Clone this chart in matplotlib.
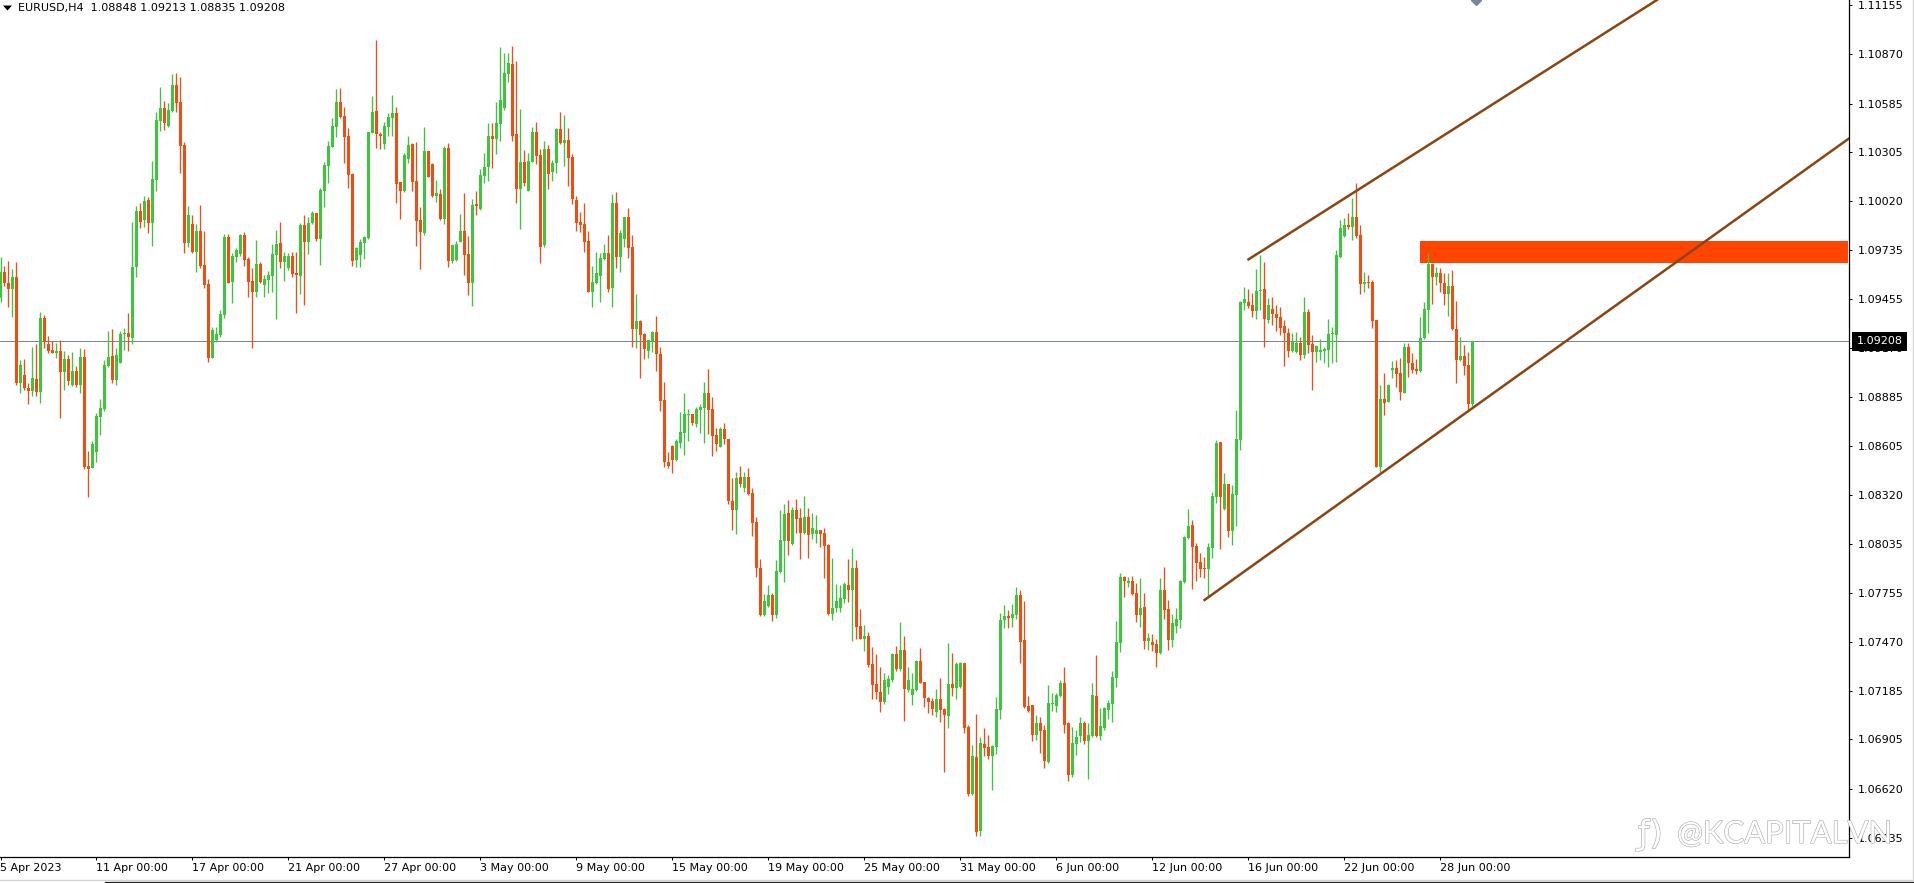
#! /usr/bin/env python3

import numpy as np
import matplotlib
matplotlib.use("Agg")
import matplotlib.pyplot as plt
import matplotlib.patheffects as pe
from matplotlib.lines import Line2D
from matplotlib.patches import Polygon, Rectangle

# EURUSD H4 candles, prices in points (1 point = 0.00001)
highs = [
    109699,109645,109674,109627,109666,109101,109105,108966,109178,109193,
    109377,109361,109240,109213,109201,109216,109155,109130,109149,109066,
    109168,109162,108576,108634,108792,108875,109101,109270,109280,109168,
    109270,109284,109371,109901,109992,110007,110050,110042,110252,110534,
    110679,110601,110586,110756,110763,110736,110364,109992,109940,109888,
    109998,109847,109567,109294,109290,109390,109828,109828,109718,109751,
    109830,109839,109699,109631,109795,109666,109593,109616,109770,109853,
    109901,109724,109718,109728,109728,109895,109940,109926,109963,109953,
    110094,110248,110368,110499,110667,110673,110563,110441,110185,109757,
    109799,109818,110422,110628,110952,110422,110480,110532,110634,110563,
    110133,110297,110397,110355,110364,109984,110451,110312,110239,110142,
    110088,110339,110355,109770,109791,109946,110069,109818,110030,110081,
    110204,110297,110470,110474,110596,110914,110875,110879,110918,110831,
    110553,110316,110297,110447,110476,110322,110368,110345,110258,110445,
    110534,110518,110441,110293,110050,109959,110007,109847,109645,109728,
    109722,109772,109824,110061,110071,109853,109930,109978,109824,109483,
    109332,109259,109216,109268,109355,109174,108971,108566,108609,108642,
    108798,108908,108815,108786,108827,108844,108975,109047,108888,108709,
    108715,108734,108644,108416,108450,108489,108450,108477,108358,108190,
    107947,107744,107798,107754,107943,108232,108267,108290,108248,108296,
    108242,108313,108242,108213,108203,108117,108126,108036,107953,107804,
    107798,107818,107949,108011,107943,107658,107567,107528,107438,107399,
    107322,107287,107278,107403,107445,107586,107503,107326,107287,107364,
    107432,107239,107152,107146,107195,107258,107085,107461,107403,107355,
    107355,107349,106988,106872,107052,106917,106969,106930,106871,107152,
    107634,107683,107654,107688,107785,107769,107706,107156,107104,107046,
    107036,106988,107220,107171,107171,107249,107326,107007,106979,106959,
    107036,107013,106998,107229,107393,107085,107094,107133,107301,107590,
    107866,107850,107847,107850,107808,107841,107754,107519,107515,107484,
    107841,107901,107712,107631,107667,107827,108082,108236,108175,108040,
    107982,107962,108043,108338,108638,108628,108448,108383,108377,108811,
    109442,109525,109509,109486,109625,109708,109670,109457,109463,109419,
    109409,109332,109284,109255,109261,109236,109467,109396,109245,109187,
    109220,109178,109338,109293,109737,109911,109920,109949,110036,110123,
    109882,109612,109592,109563,109332,108956,109023,108962,109095,109100,
    109110,109197,109201,109143,109104,109351,109438,109722,109656,109637,
    109631,109602,109602,109621,109442,109236,109187,109149,109213,
]

body_tops = [
    109612,109612,109544,109579,109579,109072,109014,108941,108995,108991,
    109346,109346,109193,109158,109153,109153,109105,109105,109039,109037,
    109120,109116,108487,108615,108777,108821,109072,109116,109124,109130,
    109249,109259,109255,109641,109965,109965,110023,110027,110148,110490,
    110561,110561,110547,110692,110692,110592,110345,109940,109888,109847,
    109847,109650,109540,109274,109249,109367,109814,109811,109704,109737,
    109824,109824,109683,109558,109656,109656,109567,109593,109714,109772,
    109776,109703,109703,109703,109602,109882,109882,109895,109949,109949,
    110084,110229,110341,110455,110594,110594,110513,110397,110177,109751,
    109785,109811,110418,110534,110542,110410,110455,110509,110532,110528,
    110133,110285,110345,110351,110135,109911,110310,110310,110235,110069,
    110061,110326,110326,109766,109770,109847,109847,109714,109998,110003,
    110171,110219,110397,110397,110470,110605,110760,110817,110814,110407,
    110245,110245,110250,110418,110418,110287,110322,110322,110239,110437,
    110436,110374,110374,110274,110027,109897,109888,109787,109550,109602,
    109689,109718,109718,110007,110007,109838,109926,109926,109753,109326,
    109326,109251,109214,109263,109261,109133,108867,108512,108603,108632,
    108682,108786,108786,108786,108817,108827,108908,108908,108815,108667,
    108699,108699,108644,108284,108418,108421,108421,108421,108329,108161,
    107895,107706,107739,107739,107879,108059,108209,108213,108232,108232,
    108188,108194,108194,108126,108117,108117,108101,108030,107663,107706,
    107721,107802,107798,107895,107895,107561,107503,107503,107339,107225,
    107179,107249,107252,107399,107399,107422,107422,107249,107195,107359,
    107359,107235,107143,107127,107137,107137,107079,107224,107224,107341,
    107349,107349,106975,106809,106801,106882,106876,106863,106867,107081,
    107596,107619,107619,107629,107740,107740,107480,107098,107104,107002,
    106998,106959,107117,107117,107162,107233,107233,106998,106882,106921,
    107002,107002,106930,107162,107156,106982,107085,107117,107264,107467,
    107843,107843,107820,107823,107754,107667,107673,107494,107467,107455,
    107769,107769,107659,107580,107600,107823,108078,108140,108146,108024,
    107933,107899,108016,108313,108618,108624,108383,108383,108323,108641,
    109438,109452,109434,109419,109502,109506,109509,109419,109394,109367,
    109351,109297,109259,109207,109201,109201,109376,109376,109193,109181,
    109158,109164,109251,109255,109708,109862,109882,109882,109926,109926,
    109824,109550,109550,109554,109332,108873,108873,108956,109052,109052,
    109023,109174,109174,109085,109050,109230,109394,109656,109656,109606,
    109602,109544,109529,109529,109278,109124,109124,109072,109208,
]

body_bottoms = [
    109458,109544,109510,109510,108966,108966,108937,108923,108923,108917,
    108917,109207,109153,109143,109143,109033,109033,108979,108956,108956,
    108956,108483,108470,108478,108570,108773,108815,109066,108985,108985,
    109085,109253,109236,109230,109641,109901,109911,109895,109895,110142,
    110486,110470,110455,110542,110590,110341,109776,109776,109724,109728,
    109645,109535,109114,109114,109216,109245,109361,109548,109554,109699,
    109714,109679,109554,109496,109496,109554,109535,109564,109587,109708,
    109670,109670,109631,109598,109593,109587,109785,109785,109892,109801,
    109801,110081,110225,110335,110451,110505,110393,110171,109675,109679,
    109708,109780,109805,110416,110409,110399,110351,110451,110499,110119,
    110081,110081,110264,110133,109907,109843,109834,110162,110052,110052,
    109917,109917,109675,109675,109679,109785,109708,109548,109548,109992,
    109973,110167,110216,110380,110380,110466,110561,110756,110399,110090,
    110090,110127,110081,110248,110283,109757,109766,110177,110189,110243,
    110355,110358,110272,110032,109895,109882,109785,109496,109496,109544,
    109589,109685,109511,109519,109699,109699,109803,109751,109280,109280,
    109247,109164,109155,109211,109133,108863,108512,108489,108522,108522,
    108622,108680,108782,108738,108730,108811,108821,108811,108663,108615,
    108599,108642,108285,108232,108232,108383,108358,108323,108159,107899,
    107625,107625,107677,107625,107625,107872,108055,108055,108036,108178,
    108101,108097,108088,108094,108094,108094,108026,107631,107631,107663,
    107667,107717,107769,107769,107557,107488,107484,107335,107220,107179,
    107119,107119,107206,107249,107312,107310,107195,107191,107164,107191,
    107233,107143,107123,107081,107065,107075,107044,107040,107202,107200,
    107210,106973,106587,106589,106371,106375,106857,106809,106809,106863,
    107075,107596,107607,107607,107625,107470,107094,107071,106930,106930,
    106955,106782,106776,107110,107098,107156,106988,106699,106699,106878,
    106925,106896,106896,106925,106925,106925,106969,107075,107113,107262,
    107465,107823,107812,107746,107625,107625,107474,107474,107451,107407,
    107403,107654,107480,107480,107563,107596,107814,108068,108020,107928,
    107891,107891,107891,108011,108310,108310,108238,108113,108113,108319,
    108637,109428,109415,109386,109386,109500,109336,109332,109365,109342,
    109288,109255,109153,109153,109149,109129,109129,109187,109149,109147,
    109147,109153,109158,109249,109245,109695,109818,109868,109872,109820,
    109540,109540,109544,109328,108483,108483,108854,108859,109043,109019,
    108917,108911,109081,109043,109037,109039,109226,109390,109583,109583,
    109544,109482,109482,109278,109100,109100,109068,108846,108848,
]

lows = [
    109438,109529,109405,109348,108956,108908,108927,108844,108892,108892,
    108854,109168,109139,109139,109110,108763,108927,108956,108952,108946,
    108908,108468,108310,108474,108512,108667,108807,109062,108966,108956,
    109081,109158,109155,109193,109579,109863,109872,109834,109760,110081,
    110428,110432,110447,110538,110538,110181,109722,109753,109718,109612,
    109635,109515,109091,109110,109207,109236,109342,109544,109429,109670,
    109703,109647,109463,109168,109467,109548,109467,109486,109496,109336,
    109631,109560,109622,109583,109375,109483,109419,109714,109888,109791,
    109650,109988,110127,110331,110393,110501,110243,110094,109647,109637,
    109641,109683,109801,110412,110326,110322,110322,110397,110397,110007,
    109917,110075,110239,110081,109760,109625,109824,110158,110042,110013,
    109911,109888,109641,109660,109675,109782,109593,109477,109415,109940,
    109969,110127,110137,110210,110291,110370,110547,110711,110370,110011,
    109859,110108,110077,110245,110235,109664,109757,110090,110137,110185,
    110351,110225,110110,110001,109849,109843,109724,109492,109409,109540,
    109438,109679,109496,109409,109635,109612,109753,109693,109178,109172,
    108998,109105,109114,109149,109039,108807,108483,108478,108449,108518,
    108593,108551,108634,108724,108711,108680,108622,108670,108547,108574,
    108595,108613,108267,108117,108094,108364,108339,108319,108084,107847,
    107619,107619,107673,107592,107605,107868,107818,107972,108032,108101,
    107949,108092,107957,108065,108040,108020,107841,107625,107596,107644,
    107644,107692,107702,107476,107488,107484,107418,107326,107137,107139,
    107065,107110,107168,107239,107303,107303,107011,107181,107104,107187,
    107229,107094,107056,107046,107036,107007,106718,106969,107156,107137,
    107200,106940,106577,106585,106348,106348,106809,106791,106612,106820,
    107023,107551,107548,107553,107600,107345,107085,107065,106898,106901,
    106828,106741,106770,107071,107065,107152,106944,106666,106689,106815,
    106892,106878,106676,106921,106917,106901,106959,107021,107007,107206,
    107413,107731,107789,107740,107582,107557,107428,107422,107418,107322,
    107399,107600,107422,107438,107522,107548,107808,108065,107773,107823,
    107847,107837,107731,107957,108271,108007,108234,108078,108030,108142,
    108580,109390,109399,109351,109336,109390,109178,109313,109303,109268,
    109245,109068,109120,109149,109143,109100,109110,109139,108927,109091,
    109100,109081,109058,109081,109091,109689,109810,109857,109795,109805,
    109482,109496,109515,109284,108483,108448,108782,108855,108994,108946,
    108869,108908,109000,109023,109019,109031,109222,109255,109423,109534,
    109496,109419,109357,109274,108965,109097,109014,108807,108835,
]

# G = bull candle, R = bear candle
direction = (
    "GRRGRGRRGR" "GRRRGRGRGR" "GRRGGGGGRG" "GGRGGRGRGG" "GRGGRRRGRG"
    "RRRGGGGRGG" "GRRRGRGGGG" "RGGRRGRGGR" "GGGGGRRRRG" "GGGGRRGGGR"
    "RGGRRRGRRG" "RGRGGGRRGR" "GGGRGGGGRR" "GRGGRRGRGG" "RGRRRRRRGG"
    "GGRGRGGRRG" "RRGGRRRRRG" "GGGRGGGRRR" "GRRRGRGRRR" "RGGRGGGRGR"
    "RGRGGRRRGG" "GGRGRRGRRR" "RGGGRGRGGG" "RRRRGRRGRG" "GRRGRGRRGG"
    "GGRGGRRRRG" "RRGGGGRRGG" "GRGGRGGGGG" "GRGRRGRGRR" "GRRGGGGGRR"
    "RRGGGRGRGG" "GGRRGGRGRR" "RRRGGRGRRG" "GGGGGGGRGR" "RGRRRGRGGR"
    "RGRRRGGGRG" "RRGRRGRRG"
)

y_ticks = [1.11155, 1.10870, 1.10585, 1.10305, 1.10020, 1.09735, 1.09455, 1.09170, 1.08885,
           1.08605, 1.08320, 1.08035, 1.07755, 1.07470, 1.07185, 1.06905, 1.06620, 1.06335]

date_labels = ["5 Apr 2023", "11 Apr 00:00", "17 Apr 00:00", "21 Apr 00:00", "27 Apr 00:00",
               "3 May 00:00", "9 May 00:00", "15 May 00:00", "19 May 00:00", "25 May 00:00",
               "31 May 00:00", "6 Jun 00:00", "12 Jun 00:00", "16 Jun 00:00", "22 Jun 00:00",
               "28 Jun 00:00"]
bars_per_label = 24

last_price = 1.09208
header = "EURUSD,H4  1.08848 1.09213 1.08835 1.09208"

# channel lines: bar index, price
lower_x = [301, 462.25]
lower_y = [1.07712, 1.10385]
upper_x = [312, 414.1]
upper_y = [1.09683, 1.11184]

# supply zone
zone_x = [354.9, 461.9]
zone_y = [1.09664, 1.09789]

BULL = "#3DC63D"
BEAR = "#EE4E12"
TREND = "#8B4513"
ZONE = "#FF4500"
GREY = "#778899"

W, H = 1915, 883
AX_R, AX_B = 1849.5, 856.5


def main():
    plt.rcParams["font.family"] = "DejaVu Sans"
    plt.rcParams["font.size"] = 8
    fig = plt.figure(figsize=(W / 100, H / 100), dpi=100, facecolor="white")
    ax = fig.add_axes([0, (H - AX_B) / H, AX_R / W, AX_B / H])

    x = np.arange(len(highs))
    hi = np.array(highs) / 1e5
    lo = np.array(lows) / 1e5
    top = np.array(body_tops) / 1e5
    bot = np.array(body_bottoms) / 1e5
    cols = [BULL if d == "G" else BEAR for d in direction]

    ax.axhline(last_price, color=GREY, lw=0.72, zorder=1)
    ax.add_patch(Rectangle((zone_x[0], zone_y[0]), zone_x[1] - zone_x[0], zone_y[1] - zone_y[0],
                           facecolor=ZONE, edgecolor="none", zorder=2))
    ax.vlines(x, lo, hi, colors=cols, lw=0.95, zorder=3)
    ax.bar(x, top - bot, bottom=bot, width=0.8, color=cols, linewidth=0, zorder=4)
    ax.plot(lower_x, lower_y, color=TREND, lw=1.8, zorder=5)
    ax.plot(upper_x, upper_y, color=TREND, lw=1.8, zorder=5)
    ax.plot([369], [1.11184], marker="D", ms=5, color=GREY, zorder=6, clip_on=True)

    ax.set_xlim(-0.125, (AX_R - 0.5) / 4)
    ax.set_ylim(1.11184 - AX_B / 17281, 1.11184)

    ax.yaxis.tick_right()
    ax.set_yticks(y_ticks)
    ax.set_yticklabels(["%.5f" % v for v in y_ticks])
    ax.set_xticks([i * bars_per_label for i in range(len(date_labels))])
    ax.set_xticklabels(date_labels, ha="left")
    ax.tick_params(axis="y", length=2.5, width=0.72, pad=3.5, labelsize=8, labelcolor="black")
    ax.tick_params(axis="x", length=2, width=0.72, pad=2.5, labelsize=8, labelcolor="black")

    for s in ["top", "left"]:
        ax.spines[s].set_visible(False)
    for s in ["right", "bottom"]:
        ax.spines[s].set_linewidth(0.9)
        ax.spines[s].set_color("black")

    # current price box on the scale
    ax.text(1.0039, last_price, "%.5f" % last_price, color="white", fontsize=8, va="center",
            transform=ax.get_yaxis_transform(), clip_on=False, zorder=10,
            bbox=dict(boxstyle="square,pad=0.4", facecolor="black", edgecolor="none"))

    fig.add_artist(Polygon([[3 / W, 1 - 5.5 / H], [12 / W, 1 - 5.5 / H], [7.5 / W, 1 - 10.5 / H]],
                           transform=fig.transFigure, facecolor="black", edgecolor="none"))
    fig.text(18 / W, 1 - 8.5 / H, header, fontsize=8, va="center", color="black")

    # window frame
    fig.add_artist(Line2D([1913 / W, 1913 / W], [3 / H, 1], color="#d4d4d4", lw=1))
    fig.add_artist(Line2D([0, 1], [3 / H, 3 / H], color="#d4d4d4", lw=1))
    fig.add_artist(Line2D([105 / W, 1], [1.5 / H, 1.5 / H], color="#222222", lw=0.9))

    # watermark
    effects = [pe.Stroke(linewidth=0.8, foreground="#a8a8a8"), pe.Normal()]
    fig.text(1677 / W, 1 - 843 / H, "@KCAPITALVN", family="Lato", fontsize=22.3, color="white",
             path_effects=effects, zorder=20)
    fig.text(1638 / W, 1 - 844 / H, "\u0192)", family="DejaVu Sans", fontsize=24, color="white",
             path_effects=effects, zorder=20)

    fig.savefig("out.png", dpi=100, facecolor="white")


if __name__ == "__main__":
    main()
